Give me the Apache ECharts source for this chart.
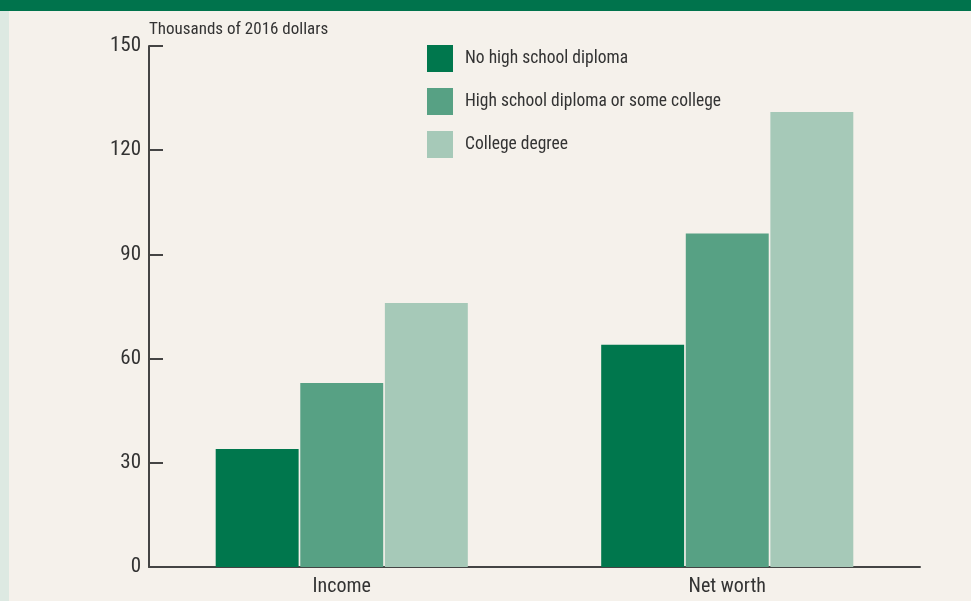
<!DOCTYPE html>
<html><head><meta charset="utf-8">
<script src="https://cdn.jsdelivr.net/npm/echarts@6/dist/echarts.min.js"></script>
<style>html,body{margin:0;padding:0;background:#f5f1eb;}#c{width:971px;height:601px;}</style>
</head><body><div id="c"></div>
<script>
var categories = ['Income', 'Net worth'];
var seriesNames = ['No high school diploma', 'High school diploma or some college', 'College degree'];
var noDiploma = [34, 64];
var hsSomeCollege = [53, 96];
var collegeDegree = [76, 131];
var yTicks = [0, 30, 60, 90, 120, 150];

var colors = ['#00774d', '#57a184', '#a6c9b8'];
var font = '"Liberation Sans Narrow", "Roboto Condensed", "Liberation Sans", sans-serif';
var chart = echarts.init(document.getElementById('c'));
var vals = [noDiploma, hsSomeCollege, collegeDegree];
chart.setOption({
  backgroundColor: '#f5f1eb',
  animation: false,
  graphic: [
    {type: 'rect', shape: {x: 0, y: 0, width: 971, height: 11}, style: {fill: '#00734c'}, z: 10},
    {type: 'rect', shape: {x: 0, y: 0, width: 9, height: 601}, style: {fill: '#dde9e2'}, z: 9}
  ],
  grid: {left: 149, right: 51, top: 46, bottom: 34},
  legend: {
    orient: 'vertical', left: 422, top: 40, itemWidth: 26, itemHeight: 27, itemGap: 16,
    icon: 'rect', data: seriesNames,
    textStyle: {fontFamily: font, fontSize: 17.5, color: '#333', padding: [0, 0, 0, 7]}
  },
  xAxis: {
    type: 'category', data: categories,
    axisLine: {lineStyle: {color: '#444', width: 2}},
    axisTick: {inside: true, length: 14, lineStyle: {color: '#444', width: 2}},
    axisLabel: {fontFamily: font, fontSize: 20, color: '#333', margin: 10}
  },
  yAxis: {
    type: 'value', min: yTicks[0], max: yTicks[yTicks.length - 1], interval: 30,
    name: 'Thousands of 2016 dollars', nameLocation: 'end', nameGap: 8,
    nameTextStyle: {fontFamily: font, fontSize: 17, color: '#333', align: 'left', verticalAlign: 'bottom'},
    axisLine: {show: true, lineStyle: {color: '#444', width: 2}},
    axisTick: {show: true, inside: true, length: 14, lineStyle: {color: '#444', width: 2}},
    splitLine: {show: false},
    axisLabel: {fontFamily: font, fontSize: 21, color: '#333', margin: 8}
  },
  series: seriesNames.map(function (n, i) {
    return {name: n, type: 'bar', data: vals[i], barGap: '2%', barCategoryGap: '34.6%',
      itemStyle: {color: colors[i]}};
  })
});
</script></body></html>
